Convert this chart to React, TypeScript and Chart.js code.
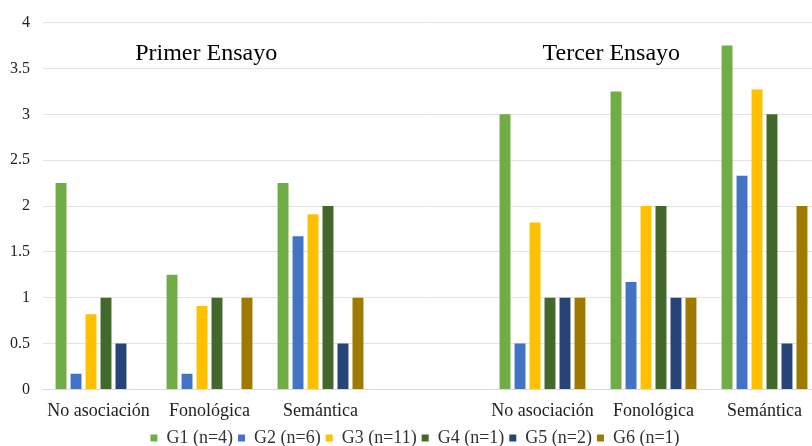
import React, { useEffect, useRef } from "react";
import { Chart, registerables } from "chart.js";

Chart.register(...registerables);

const categories = ["No asociación", "Fonológica", "Semántica", "", "No asociación", "Fonológica", "Semántica"];
const seriesNames = ["G1 (n=4)", "G2 (n=6)", "G3 (n=11)", "G4 (n=1)", "G5 (n=2)", "G6 (n=1)"];
const g1 = [2.25, 1.25, 2.25, null, 3.0, 3.25, 3.75];
const g2 = [0.17, 0.17, 1.67, null, 0.5, 1.17, 2.33];
const g3 = [0.82, 0.91, 1.91, null, 1.82, 2.0, 3.27];
const g4 = [1, 1, 2, null, 1, 2, 3];
const g5 = [0.5, 0, 0.5, null, 1, 1, 0.5];
const g6 = [0, 1, 1, null, 1, 1, 2];
const seriesColors = ["#70AD47", "#4472C4", "#FFC000", "#43682B", "#264478", "#9E7B00"];
const yTicks = [0, 0.5, 1, 1.5, 2, 2.5, 3, 3.5, 4];
const titles = [
  { text: "Primer Ensayo", x: 0.97, y: 3.59 },
  { text: "Tercer Ensayo", x: 4.62, y: 3.59 },
];

const serif = "'Liberation Serif', 'Times New Roman', serif";

const titlePlugin = {
  id: "groupTitles",
  afterDatasetsDraw(chart: any) {
    const { ctx, scales } = chart;
    ctx.save();
    ctx.fillStyle = "#000";
    ctx.font = `24px ${serif}`;
    ctx.textAlign = "center";
    ctx.textBaseline = "alphabetic";
    for (const t of titles) {
      ctx.fillText(t.text, scales.x.getPixelForValue(t.x), scales.y.getPixelForValue(t.y));
    }
    ctx.restore();
  },
};

export default function App() {
  const ref = useRef<HTMLCanvasElement>(null);
  useEffect(() => {
    const data = [g1, g2, g3, g4, g5, g6];
    const chart = new Chart(ref.current!, {
      type: "bar",
      data: {
        labels: categories,
        datasets: data.map((d, i) => ({
          label: seriesNames[i],
          data: d,
          backgroundColor: seriesColors[i],
          borderWidth: 0,
          categoryPercentage: 0.81,
          barPercentage: 0.73,
        })),
      },
      options: {
        animation: false,
        responsive: false,
        maintainAspectRatio: false,
        layout: { padding: { top: 14, left: 10, right: 22, bottom: -11 } },
        plugins: {
          tooltip: { enabled: false },
          legend: {
            position: "bottom",
            labels: {
              boxWidth: 7,
              boxHeight: 7,
              padding: 5,
              color: "#333",
              font: { family: serif, size: 18 },
            },
          },
        },
        scales: {
          x: {
            grid: { display: false, drawTicks: false },
            border: { color: "#d9d9d9" },
            afterFit: (axis: any) => {
              axis.height = axis.height - 9;
              axis.paddingLeft = 0;
              axis.paddingRight = 0;
            },
            ticks: {
              color: "#222",
              font: { family: serif, size: 18 },
              padding: 11,
              autoSkip: false,
              maxRotation: 0,
            },
          },
          y: {
            min: 0,
            max: 4,
            afterBuildTicks: (axis: any) => {
              axis.ticks = yTicks.map((v) => ({ value: v }));
            },
            afterFit: (axis: any) => {
              axis.width = 33;
            },
            grid: { color: "#e3e3e3", drawTicks: false },
            border: { display: false },
            ticks: {
              color: "#222",
              font: { family: serif, size: 16 },
              padding: 13,
              callback: (v: any) => String(v),
            },
          },
        },
      },
      plugins: [titlePlugin],
    });
    return () => chart.destroy();
  }, []);
  return (
    <div style={{ position: "fixed", left: 0, top: 0, width: 812, height: 446, overflow: "hidden", background: "#fff" }}>
      <canvas ref={ref} width={842} height={446} style={{ display: "block" }} />
    </div>
  );
}
